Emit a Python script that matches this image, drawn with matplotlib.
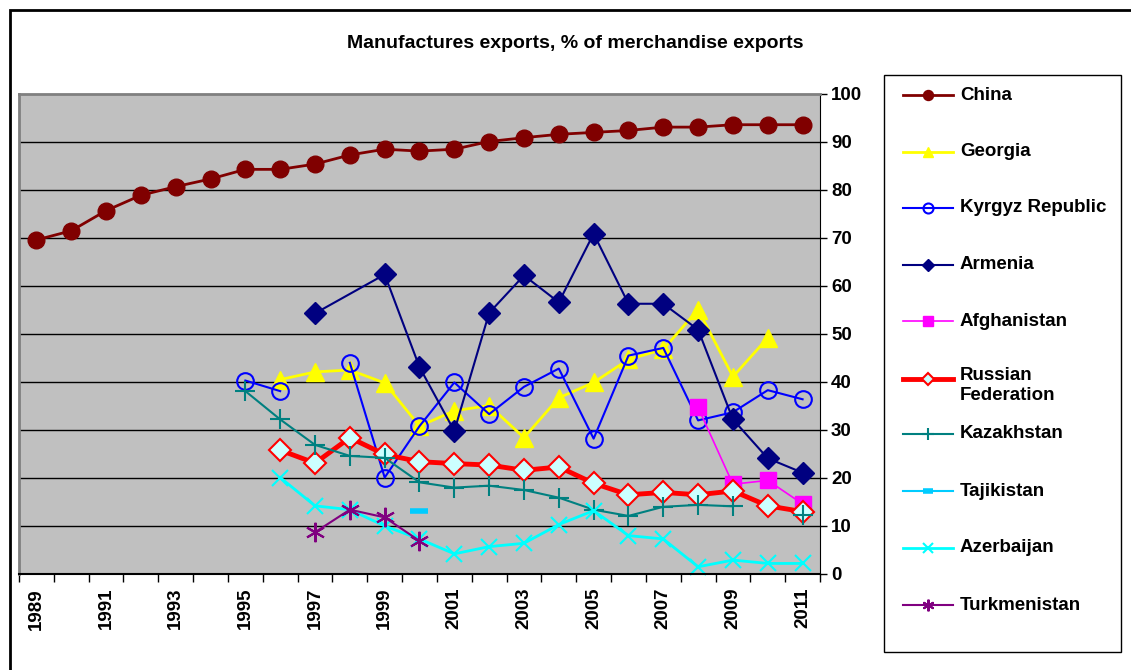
import numpy as np
import matplotlib
matplotlib.use("Agg")
import matplotlib.pyplot as plt
from matplotlib.lines import Line2D
from matplotlib.patches import Rectangle

plt.rcParams['font.family'] = ['Liberation Sans', 'DejaVu Sans']

nan = np.nan
years = list(range(1989, 2012))
title = "Manufactures exports, % of merchandise exports"

china = [69.6, 71.5, 75.7, 78.9, 80.7, 82.3, 84.3, 84.3, 85.4, 87.3, 88.5, 88.1,
         88.5, 90.1, 90.9, 91.6, 92.0, 92.4, 93.1, 93.1, 93.6, 93.6, 93.6]
georgia = [nan]*7 + [40.5, 42.1, 42.5, 39.8, 30.8, 34.0, 35.1, 28.4, 36.7, 39.9,
                     44.7, 46.8, 55.1, 41.1, 49.2, nan]
kyrgyz = [nan]*6 + [40.3, 38.1, nan, 44.0, 20.1, 30.8, 39.9, 33.3, 39.0, 42.8,
                    28.2, 45.5, 47.1, 32.0, 33.7, 38.3, 36.4]
armenia = [nan]*8 + [54.3, nan, 62.4, 43.1, 29.8, 54.4, 62.2, 56.6, 70.9, 56.3,
                     56.3, 50.9, 32.2, 24.1, 21.1]
afghanistan = [nan]*19 + [34.7, 18.7, 19.5, 14.6]
russia = [nan]*7 + [25.8, 23.1, 28.4, 24.9, 23.4, 23.0, 22.7, 21.6, 22.3, 18.9,
                    16.5, 17.0, 16.5, 17.3, 14.2, 13.0]
kazakhstan = [nan]*6 + [38.1, 32.2, 26.9, 24.6, 24.2, 19.1, 18.0, 18.4, 17.5, 15.9,
                        13.4, 12.1, 14.0, 14.4, 14.1, nan, 12.3]
tajikistan = [nan]*11 + [13.2] + [nan]*11
azerbaijan = [nan]*7 + [20.1, 14.2, 13.4, 10.0, 7.3, 4.2, 5.7, 6.4, 10.3, 13.2,
                        8.0, 7.3, 1.5, 2.9, 2.2, 2.2]
turkmenistan = [nan]*8 + [8.7, 13.4, 11.8, 6.9] + [nan]*11

names = ["China", "Georgia", "Kyrgyz Republic", "Armenia", "Afghanistan",
         "Russian\nFederation", "Kazakhstan", "Tajikistan", "Azerbaijan", "Turkmenistan"]
series = [china, georgia, kyrgyz, armenia, afghanistan, russia, kazakhstan,
          tajikistan, azerbaijan, turkmenistan]
# series whose line is drawn across missing years
connect_gaps = [False, False, False, True, False, False, False, False, False, False]

asterisk = (6, 2, 0)
styles = [
    dict(color='#800000', lw=2, marker='o', ms=12, mfc='#800000', mec='#800000'),
    dict(color='#FFFF00', lw=2, marker='^', ms=13, mfc='#FFFF00', mec='#FFFF00'),
    dict(color='#0000FF', lw=1.5, marker='o', ms=12, mfc='none', mec='#0000FF', mew=1.5),
    dict(color='#000080', lw=1.5, marker='D', ms=11, mfc='#000080', mec='#000080'),
    dict(color='#FF00FF', lw=1.2, marker='s', ms=11, mfc='#FF00FF', mec='#FF00FF'),
    dict(color='#FF0000', lw=3.5, marker='D', ms=11, mfc='#CCFFFF', mec='#FF0000', mew=1.5),
    dict(color='#008080', lw=1.5, marker='+', ms=15, mec='#008080', mew=1.5),
    dict(color='#00CCFF', lw=1.5, marker='_', ms=13, mec='#00CCFF', mew=4),
    dict(color='#00FFFF', lw=2, marker='x', ms=12, mec='#00FFFF', mew=1.5),
    dict(color='#800080', lw=1.5, marker=asterisk, ms=14, mec='#800080', mew=1.5),
]

W, H = 1131, 670
fig = plt.figure(figsize=(W/100, H/100), dpi=100)

def fx(px):
    return px / W

def fy(py):
    return 1 - py / H

# outer border
fig.add_artist(Rectangle((fx(10), fy(680)), fx(1140) - fx(10), fy(10) - fy(680),
                         transform=fig.transFigure, fill=False, ec='black', lw=2))

ax = fig.add_axes([fx(19), fy(574), fx(820) - fx(19), fy(94) - fy(574)])
ax.set_facecolor('#C0C0C0')
x = np.arange(len(years))
for s, st, cg in zip(series, styles, connect_gaps):
    arr = np.array(s, dtype=float)
    if cg:
        m = np.isfinite(arr)
        ax.plot(x[m], arr[m], **st, clip_on=False)
    else:
        ax.plot(x, arr, **st, clip_on=False)

ax.set_xlim(-0.5, len(years) - 0.5)
ax.set_ylim(0, 100)
ax.yaxis.tick_right()
ax.set_yticks(np.arange(0, 101, 10))
ax.set_yticklabels([str(v) for v in range(0, 101, 10)], fontsize=13.5, fontweight='bold')
ax.tick_params(axis='y', direction='out', length=5, width=1, pad=3)
for v in range(10, 100, 10):
    ax.axhline(v, color='black', lw=1, zorder=0.5)

ax.set_xticks(x[::2])
ax.set_xticklabels([str(y) for y in years[::2]], rotation=90, fontsize=13.5,
                   fontweight='bold')
ax.tick_params(axis='x', which='major', length=0, pad=10)
ax.set_xticks(np.arange(-0.5, len(years), 1), minor=True)
ax.tick_params(axis='x', which='minor', length=6, width=1, direction='out')

for sp in ['left', 'top']:
    ax.spines[sp].set_color('#808080')
    ax.spines[sp].set_linewidth(2)
ax.spines['right'].set_color('black')
ax.spines['bottom'].set_color('black')
ax.spines['bottom'].set_linewidth(1.5)

fig.text(fx(575), fy(43), title, ha='center', va='center', fontsize=14,
         fontweight='bold')

# legend box
fig.add_artist(Rectangle((fx(884), fy(652)), fx(1121) - fx(884), fy(75) - fy(652),
                         transform=fig.transFigure, fill=True, fc='white',
                         ec='black', lw=1))
leg_y = [95, 152, 208, 265, 321, 379, 434, 491, 548, 605]
for name, st, ly in zip(names, styles, leg_y):
    fig.add_artist(Line2D([fx(903), fx(953)], [fy(ly), fy(ly)],
                          transform=fig.transFigure, color=st['color'],
                          lw=st['lw']))
    mk = {k: v for k, v in st.items() if k not in ('lw', 'color')}
    mk['ms'] = st['ms'] * 0.6
    fig.add_artist(Line2D([fx(928)], [fy(ly)], transform=fig.transFigure,
                          lw=0, **mk))
    if '\n' in name:
        fig.text(fx(960), fy(ly - 12), name, ha='left', va='top', fontsize=13.5,
                 fontweight='bold', linespacing=1.2)
    else:
        fig.text(fx(960), fy(ly), name, ha='left', va='center', fontsize=13.5,
                 fontweight='bold')

fig.savefig('out.png', dpi=100)
